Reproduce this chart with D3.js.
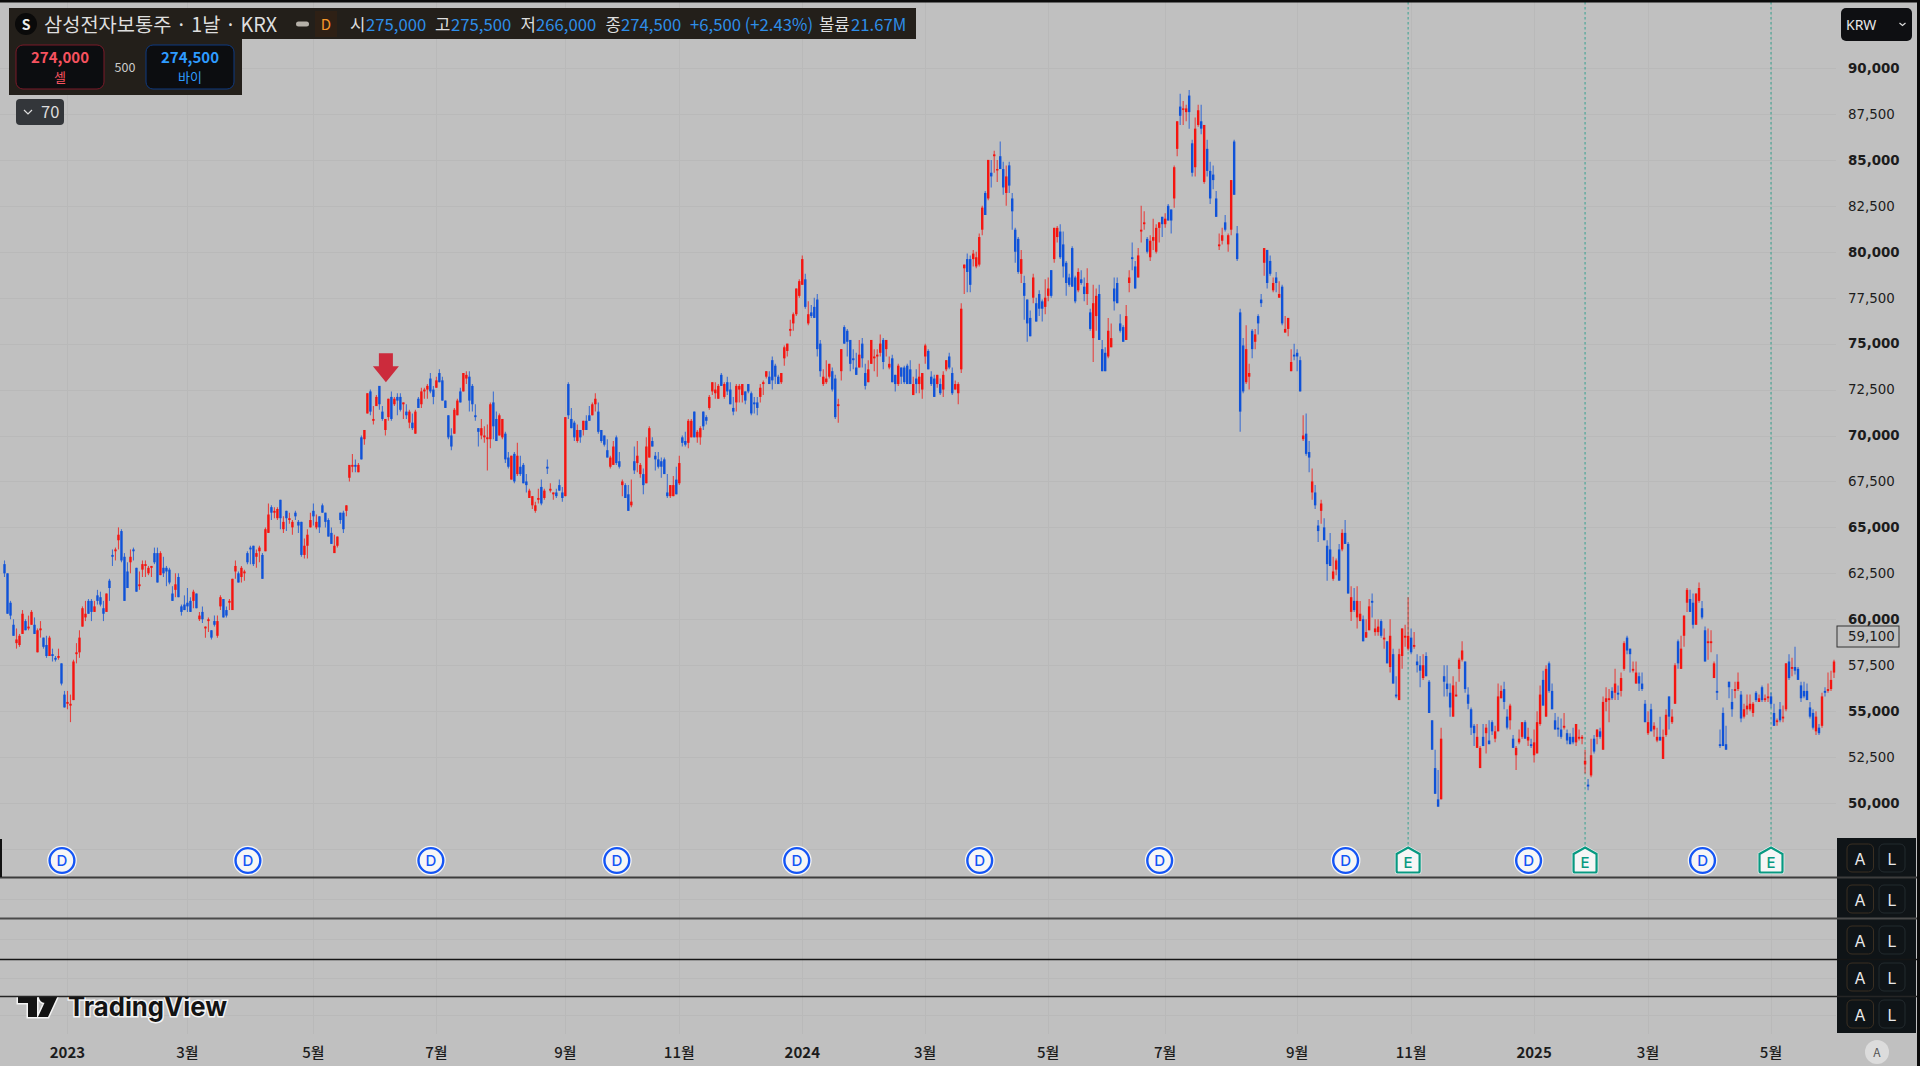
<!DOCTYPE html>
<html>
<head>
<meta charset="utf-8">
<style>
	html,body{margin:0;padding:0;background:#c0c0c0;overflow:hidden;}
	svg{display:block;}
	text{font-family:"Noto Sans CJK KR","Noto Sans",sans-serif;}
</style>
<script src="https://cdnjs.cloudflare.com/ajax/libs/d3/7.8.5/d3.min.js"></script>
</head>
<body>
<svg id="chart" width="1920" height="1066"></svg>
<script>
// daily bars: [open, high, low, close] in units of 100 KRW
var bars2022 = [[630,632,623,625],[625,625,603,603],[609,610,600,602],[597,600,591,591],[587,595,584,589],[586,592,585,591],[592,605,592,603],[599,600,594,594],[595,602,594,596],[597,605,597,604],[597,601,592,592],[582,595,582,594],[594,599,590,595],[590,590,584,585],[586,591,579,580],[580,591,580,590],[581,584,577,580],[579,580,577,578],[579,584,578,580],[576,576,564,565],[559,561,552,552]];
var bars2023a = [[554,561,551,555],[553,559,544,554],[556,578,556,577],[581,587,576,582],[582,594,579,590],[596,607,596,606],[601,610,599,603],[610,611,603,603],[610,611,599,604],[604,610,604,607],[613,616,608,610],[612,615,607,608],[606,610,599,603],[604,614,604,614],[621,622,610,617],[635,638,629,634],[637,639,632,638],[643,650,638,646],[648,649,631,632],[634,636,610,610],[626,631,617,617],[631,638,625,634],[638,639,632,637],[628,628,615,615],[618,626,616,619],[627,632,623,630],[629,632,623,630],[625,629,624,628],[628,629,623,629],[636,639,630,631],[636,639,620,620],[624,637,624,636],[628,634,623,625],[628,629,618,626],[627,628,619,620],[614,618,610,610],[616,625,612,619],[623,625,612,612],[607,608,602,604],[608,613,605,605],[609,617,604,607],[610,612,604,604],[610,616,606,615],[614,614,606,606],[600,604,599,602],[604,607,598,600],[595,596,590,596],[599,601,593,600],[594,594,589,590],[599,602,596,597],[591,602,590,599],[607,613,605,612],[611,611,601,601],[605,607,601,602],[609,611,605,610],[605,622,605,622],[626,632,622,629],[625,626,620,620],[623,629,620,628],[625,627,621,626],[636,637,630,631],[639,640,630,638],[640,640,629,630],[634,638,628,636],[637,640,631,639],[635,636,622,622],[637,650,637,649],[647,663,647,657],[661,662,654,658],[658,661,655,659],[655,661,654,660],[665,665,649,655],[649,656,647,653],[659,659,648,655],[654,658,652,655],[650,654,646,653],[658,659,654,656],[653,654,647,651],[653,653,634,635],[635,644,633,640],[640,649,633,646],[650,658,650,654],[659,663,651,656],[650,657,649,653],[656,656,647,650],[662,663,658,658],[658,658,650,653],[654,655,645,645],[647,650,641,641],[636,646,636,640],[640,645,639,645],[658,658,652,654],[658,659,647,649],[659,662,656,662]];
var bars2023b = [[677,684,675,684],[683,690,680,684],[684,687,680,683],[680,685,680,684],[699,700,687,687],[698,703,695,703],[712,723,712,723],[724,725,711,713],[708,716,706,709],[716,722,716,721],[727,727,714,717],[713,716,708,709],[703,709,700,709],[710,720,708,720],[721,724,708,709],[717,721,716,720],[721,723,711,719],[721,723,713,714],[717,718,709,718],[713,717,709,711],[707,714,704,713],[707,712,703,704],[701,714,701,713],[720,721,715,715],[717,726,715,724],[724,726,720,725],[725,728,720,727],[731,734,723,724],[725,727,717,721],[726,732,726,730],[734,736,729,729],[730,732,719,719],[719,719,715,715],[711,711,698,699],[700,704,692,694],[701,715,701,714],[711,720,711,719],[724,726,718,718],[724,734,724,734],[731,735,728,733],[732,735,713,719],[727,728,713,717],[711,717,708,710],[704,704,694,702],[700,709,698,704],[699,705,696,700],[698,706,681,699],[698,718,693,717],[718,724,698,705],[709,713,697,697],[700,712,700,711],[699,709,698,709],[701,702,685,687],[688,691,682,683],[676,689,676,689],[690,691,674,675],[679,696,678,689],[683,689,678,679],[684,685,674,674],[675,679,669,673],[666,671,666,670],[662,667,660,667],[659,664,658,662],[665,671,663,666],[672,676,662,663],[666,671,665,670],[683,687,679,682],[670,674,669,671],[668,669,665,669],[669,671,666,667],[673,676,670,670],[669,672,664,666]];
var bars2023c = [[667,710,667,710],[728,729,709,711],[709,715,704,704],[707,708,697,699],[697,706,696,703],[703,703,696,699],[703,708,700,708],[708,711,703,703],[711,716,708,708],[711,718,711,717],[717,723,713,720],[713,718,701,702],[703,703,696,697],[700,700,694,695],[692,698,688,688],[683,689,682,688],[684,697,684,694],[699,700,684,685],[686,691,682,683],[673,676,667,675],[673,674,666,666],[668,673,659,659],[662,676,661,664],[686,694,679,681],[685,697,680,689],[679,685,677,684],[679,682,668,673],[674,699,674,694],[688,705,688,704],[697,699,694,694],[689,691,681,687],[687,691,682,683],[686,688,677,683],[687,688,679,679],[669,679,666,667],[667,673,666,673],[667,678,667,673],[676,683,668,668],[674,689,673,685],[699,700,694,696],[697,702,694,695],[696,709,693,708],[699,709,699,708],[713,713,699,699],[699,703,696,702],[699,705,695,704],[713,713,703,705],[710,711,706,708],[715,722,714,721],[724,729,722,729],[723,729,720,725],[720,728,720,727],[733,734,727,727],[721,729,720,728],[729,732,722,724],[725,729,717,717],[715,721,711,713],[718,728,713,727],[725,728,718,727],[722,728,718,728],[724,724,717,719],[728,728,723,724],[723,724,711,712],[718,721,712,717],[718,721,711,715],[721,728,718,726],[728,730,722,729],[732,735,731,735],[732,735,728,728],[741,743,725,730],[738,739,728,732],[732,733,728,728],[729,734,728,734],[742,749,738,748],[746,750,743,750],[757,763,754,758],[761,767,757,766],[766,780,765,780],[776,785,775,784]];
var bars2024a = [[782,798,782,796],[785,788,769,770],[761,773,760,766],[767,771,764,765],[770,775,764,764],[774,777,743,747],[750,752,732,735],[728,736,727,732],[729,741,728,731],[732,739,731,739],[735,737,724,725],[731,733,709,710],[716,720,707,717],[735,747,730,747],[759,760,750,750],[757,758,743,751],[752,752,735,739],[742,747,736,741],[737,745,733,733],[737,752,737,744],[750,753,737,742],[734,739,725,727],[729,741,729,736],[739,752,739,752],[742,747,735,743],[743,747,732,744],[745,755,743,750],[752,753,736,740],[747,752,743,752],[737,743,736,739],[742,744,729,729],[733,733,724,728],[728,739,727,738],[737,737,728,732],[737,738,728,729],[738,739,728,728],[736,741,728,728],[722,732,722,728],[731,736,723,728],[728,739,723,732],[725,734,720,734],[743,750,739,749],[746,747,736,736],[732,735,727,728],[731,733,721,721],[728,733,726,733],[728,731,722,723],[725,735,721,733],[736,741,735,741],[743,745,736,737],[734,737,722,723],[725,730,725,728],[723,729,717,728],[736,772,734,769],[791,793,777,793],[796,799,778,789],[796,798,778,782],[796,801,792,799],[792,800,791,797],[793,810,792,808],[812,825,809,824],[832,833,820,820],[829,850,828,850],[843,850,835,841],[852,855,843,853],[845,850,838,845],[852,860,845,845],[845,849,831,835],[832,847,825,841],[847,849,832,836],[829,832,812,822],[812,813,794,800],[807,808,788,789],[788,801,783,796],[783,787,763,776],[774,774,751,761],[764,768,754,754],[775,788,772,786],[772,775,762,762],[777,779,765,769],[773,774,762,769],[770,785,766,775],[776,786,773,780],[790,790,775,776],[796,813,794,813],[808,814,805,813],[811,815,796,797],[804,811,786,792],[794,795,776,783],[786,788,781,782],[802,803,781,781],[786,787,772,773],[779,791,778,789],[785,790,782,783],[781,786,773,777],[777,791,771,783]];
var bars2024b = [[767,769,757,758],[753,782,740,772],[765,780,757,776],[777,782,752,752],[747,752,735,735],[745,748,735,735],[743,764,742,757],[748,761,748,753],[780,786,768,773],[783,786,772,772],[761,766,756,757],[759,760,751,751],[752,771,752,765],[783,790,778,786],[797,805,790,796],[792,795,780,780],[786,802,786,798],[811,825,805,812],[815,822,812,816],[807,808,799,800],[797,809,795,806],[806,818,801,808],[800,815,799,813],[813,816,805,816],[819,819,808,815],[815,821,813,818],[825,826,817,817],[823,823,810,817],[829,847,824,846],[856,871,852,871],[879,886,869,874],[878,882,869,878],[876,880,871,878],[885,888,867,876],[859,861,841,843],[846,873,841,867],[869,880,868,877],[871,880,864,867],[838,869,837,869],[856,861,841,844],[844,849,826,829],[842,847,834,839],[829,833,819,819],[803,810,801,804],[806,813,804,809],[816,820,811,812],[804,810,800,809],[812,839,809,839],[860,861,831,831],[810,814,795,796]];
var bars2024c = [[767,769,702,713],[749,753,723,724],[729,760,728,747],[732,739,725,734],[757,758,742,747],[751,758,747,755],[765,766,755,761],[774,777,770,772],[794,802,787,802],[801,801,780,783],[795,798,787,788],[779,786,778,783],[786,789,778,783],[775,784,775,777],[781,782,760,761],[756,765,756,758],[758,764,754,764],[735,747,735,740],[744,750,741,743],[745,747,735,743],[741,743,724,724],[698,711,697,700],[701,712,689,690],[691,697,680,688],[669,682,665,675],[669,673,660,662],[651,654,642,648],[659,665,652,663],[650,655,643,643],[640,643,621,630],[638,647,629,629],[622,634,621,626],[627,633,624,632],[638,641,621,621],[638,649,637,647],[647,654,641,641],[641,642,614,614],[604,618,599,612],[610,617,604,605],[601,618,595,610],[599,610,599,603],[600,602,588,588],[590,600,590,593],[594,611,594,607],[610,614,601,609],[593,600,591,595],[593,600,591,596],[599,600,590,591],[589,595,584,590],[588,588,576,576],[574,600,571,591],[581,584,565,565],[559,569,557,558],[556,584,556,581],[580,595,573,595],[590,597,585,591],[584,612,583,591],[590,595,581,582],[585,593,584,586],[577,581,571,575],[575,580,563,572],[568,581,567,575],[580,582,569,569],[566,567,549,549],[545,545,529,529],[519,529,505,505],[502,518,498,498],[502,541,502,535],[569,575,558,566],[565,575,558,562],[560,565,547,552],[547,569,547,564],[558,566,558,559],[573,579,566,578],[578,588,577,583],[577,577,560,562],[559,563,551,554],[551,552,537,541],[542,543,531,538],[530,543,530,536],[519,531,519,530],[536,543,531,531],[538,543,527,541],[534,545,532,532],[544,545,537,539],[535,542,533,539],[539,565,539,558],[557,564,557,561],[562,566,551,555],[547,551,540,541],[545,554,540,553],[535,537,530,530],[526,531,518,530],[533,540,532,535],[536,544,535,544],[544,545,535,535],[534,541,531,536],[532,535,530,531],[526,540,522,533]];
var bars2025 = [[527,550,527,544],[543,564,542,559],[567,572,553,553],[547,575,547,573],[576,577,560,561],[561,565,551,551],[545,549,540,540],[541,547,536,540],[540,546,535,536],[541,549,540,542],[538,540,532,534],[536,538,532,532],[536,541,532,533],[533,543,531,543],[535,540,534,536],[535,537,532,536],[521,529,516,523],[510,513,507,509],[515,535,514,526],[535,537,527,528],[536,540,532,540],[539,541,535,536],[529,558,529,555],[555,563,550,557],[556,562,544,557],[561,563,556,557],[560,573,556,565],[560,564,556,559],[561,571,558,568],[573,588,572,587],[590,591,581,583],[584,584,571,581],[572,577,571,573],[565,577,565,571],[569,571,561,565],[565,571,561,562],[554,556,544,544],[538,550,537,544],[551,554,539,539],[540,544,536,542],[534,541,533,536],[536,547,534,534],[524,540,524,536],[537,551,536,548],[558,558,540,547],[544,551,543,547],[554,576,554,575],[588,589,573,576],[573,591,573,584],[591,602,585,602],[609,617,604,616],[611,616,604,604],[609,614,595,597],[597,614,597,614],[610,620,609,617],[606,610,600,601],[594,596,577,577],[587,595,578,588],[587,594,582,588],[568,577,568,576],[561,581,556,560],[532,540,530,531],[549,552,531,531],[532,542,529,529],[566,566,557,563],[555,562,547,551],[561,566,557,562],[562,571,561,566],[559,561,544,546],[547,554,546,551],[551,559,548,553],[551,559,550,554],[549,555,547,554],[560,561,555,556],[555,559,555,557],[563,564,555,556],[556,559,555,557],[557,565,555,558],[558,560,552,554],[549,554,542,542],[544,546,542,545],[551,555,544,545],[546,553,544,547],[551,576,550,576],[577,581,567,568],[573,579,569,574],[574,585,570,572],[573,574,567,567],[564,566,555,557],[561,566,557,558],[561,565,556,556],[552,555,546,547],[549,551,540,541],[539,550,537,547],[541,543,537,538],[542,560,541,558],[561,563,558,560],[561,571,560,562],[562,572,561,567],[571,578,568,577]];

var monthLabels = ["2023","3월","5월","7월","9월","11월","2024","3월","5월","7월","9월","11월","2025","3월","5월"];
var monthBars = [21,61,103,144,187,225,266,307,348,387,431,469,510,548,589];
var priceTicks = [90000,87500,85000,82500,80000,77500,75000,72500,70000,67500,65000,62500,60000,57500,55000,52500,50000];
var dividendBars = [19,81,142,204,264,325,385,447,508,566];
var earningsBars = [468,527,589];
var arrowBar = 127;
var arrowPrice = 72900;
var lastPrice = 59100;
var legendQuote = [["시","275,000",350,366],["고","275,500",435,451],["저","266,000",520.5,536],["종","274,500",605.5,621]];

var bars = [].concat(bars2022,bars2023a,bars2023b,bars2023c,bars2024a,bars2024b,bars2024c,bars2025).map(function(b,i){
	return {i:i,o:b[0]*100,h:b[1]*100,l:b[2]*100,c:b[3]*100};
});

var svg = d3.select("#chart");
var x = d3.scaleLinear().domain([0,610]).range([4.5,1834]);
var y = d3.scaleLinear().domain([50000,90000]).range([803,68]);
var upColor = "#f41410", downColor = "#0f52d8", textDark = "#1c1c1c", gridColor = "#b9b9b9";
function barColor(d){ return d.c>=d.o ? upColor : downColor; }

svg.append("rect").attr("width",1920).attr("height",1066).attr("fill","#c0c0c0");

// grid
var grid = svg.append("g").attr("stroke",gridColor).attr("stroke-width",1);
grid.selectAll(".v").data(monthBars).enter().append("line")
	.attr("x1",function(d){return Math.round(x(d))+0.5;}).attr("x2",function(d){return Math.round(x(d))+0.5;})
	.attr("y1",2).attr("y2",1034);
grid.selectAll(".h").data(priceTicks.concat([47500])).enter().append("line")
	.attr("x1",0).attr("x2",1836)
	.attr("y1",function(d){return Math.round(y(d))+0.5;}).attr("y2",function(d){return Math.round(y(d))+0.5;});
grid.selectAll(".p").data([899,939,978,1015]).enter().append("line")
	.attr("x1",0).attr("x2",1836).attr("y1",function(d){return d+0.5;}).attr("y2",function(d){return d+0.5;});

// earnings lines
svg.selectAll(".elin").data(earningsBars).enter().append("line")
	.attr("x1",function(d){return x(d);}).attr("x2",function(d){return x(d);})
	.attr("y1",2).attr("y2",846)
	.attr("stroke","#089981").attr("stroke-width",1).attr("stroke-dasharray","2.5,2.5").attr("opacity",0.75);

// candles
var candles = svg.append("g");
candles.selectAll(".wick").data(bars).enter().append("line")
	.attr("x1",function(d){return x(d.i);}).attr("x2",function(d){return x(d.i);})
	.attr("y1",function(d){return y(d.h);}).attr("y2",function(d){return y(d.l);})
	.attr("stroke",barColor).attr("stroke-width",1.1).attr("opacity",0.72);
candles.selectAll(".body").data(bars).enter().append("rect")
	.attr("x",function(d){return x(d.i)-1.2;}).attr("width",2.4)
	.attr("y",function(d){return y(Math.max(d.o,d.c));})
	.attr("height",function(d){return Math.max(1.4,Math.abs(y(d.o)-y(d.c)));})
	.attr("fill",barColor);

// sell arrow
var ax = x(arrowBar)+0.5, ay = y(arrowPrice);
svg.append("path")
	.attr("d","M"+(ax-7)+","+(ay-29)+"h14v13h6L"+ax+","+ay+"L"+(ax-13)+","+(ay-16)+"h6z")
	.attr("fill","#cc2b3c");

// price axis labels
svg.selectAll(".ptick").data(priceTicks).enter().append("text")
	.attr("x",1848).attr("y",function(d){return y(d);}).attr("dy","0.36em")
	.style("font-family","'DejaVu Sans'").style("font-size","13.4px")
	.style("font-weight",function(d){return d%5000==0 ? "bold" : "normal";})
	.attr("fill",textDark)
	.text(function(d){return d3.format(",")(d);});

// last price box
svg.append("rect").attr("x",1837).attr("y",626).attr("width",62).attr("height",21)
	.attr("fill","#c0c0c0").attr("stroke","#333").attr("stroke-width",1);
svg.append("text").attr("x",1848).attr("y",636.5).attr("dy","0.36em")
	.style("font-family","'DejaVu Sans'").style("font-size","13.4px").attr("fill",textDark)
	.text(d3.format(",")(lastPrice));

// time axis labels
svg.selectAll(".mtick").data(monthBars).enter().append("text")
	.attr("x",function(d){return x(d);}).attr("y",1053).attr("dy","0.36em").attr("text-anchor","middle")
	.style("font-size","15px")
	.style("font-weight",function(d,i){return monthLabels[i].length==4 ? "bold" : "500";})
	.attr("fill",textDark)
	.text(function(d,i){return monthLabels[i];});

// dividends
var divs = svg.selectAll(".div").data(dividendBars).enter().append("g")
	.attr("transform",function(d){return "translate("+(x(d)+0.5)+",860.5)";});
divs.append("circle").attr("r",14.8).attr("fill","#f6f6f6");
divs.append("circle").attr("r",12.4).attr("fill","#f6f6f6").attr("stroke","#1455f5").attr("stroke-width",2.4);
divs.append("text").attr("text-anchor","middle").attr("dy","0.36em")
	.style("font-family","Inter").style("font-size","15px").style("font-weight","500")
	.attr("fill","#1455f5").text("D");

// earnings
var earns = svg.selectAll(".earn").data(earningsBars).enter().append("g")
	.attr("transform",function(d){return "translate("+x(d)+",846.5)";});
earns.append("path").attr("d","M0,1L11.5,7.5V24.5Q11.5,26 10,26H-10Q-11.5,26 -11.5,24.5V7.5Z")
	.attr("fill","#f6f6f6").attr("stroke","#f6f6f6").attr("stroke-width",3.5).attr("stroke-linejoin","round");
earns.append("path").attr("d","M0,1L11.5,7.5V24.5Q11.5,26 10,26H-10Q-11.5,26 -11.5,24.5V7.5Z")
	.attr("fill","#f6f6f6").attr("stroke","#089981").attr("stroke-width",2.2);
earns.append("text").attr("text-anchor","middle").attr("y",16).attr("dy","0.36em")
	.style("font-family","Inter").style("font-size","15px").style("font-weight","500")
	.attr("fill","#089981").text("E");

// tradingview logo, cut off at the pane line
svg.append("clipPath").attr("id","logoClip").append("rect").attr("x",0).attr("y",997).attr("width",400).attr("height",40);
var logo = svg.append("g").attr("clip-path","url(#logoClip)");
var logoPath = "M18,991H37V1017H28V1003H18ZM50,991H60L48,1017H38ZM45,991A4.5,4.5 0 1 1 45,1003A4.5,4.5 0 1 1 45,991Z";
logo.append("path").attr("d",logoPath).attr("fill","#f4f4f4").attr("stroke","#f4f4f4").attr("stroke-width",3);
logo.append("path").attr("d",logoPath).attr("fill","#131313");
logo.append("text").attr("x",68).attr("y",1016)
	.style("font-family","Inter").style("font-size","27px").style("font-weight","700")
	.attr("textLength",159).attr("lengthAdjust","spacingAndGlyphs")
	.attr("fill","#131313").attr("stroke","#f4f4f4").attr("stroke-width",3).attr("paint-order","stroke").text("TradingView");

// right hand A / L panel
svg.append("rect").attr("x",1837).attr("y",838).attr("width",79).attr("height",195).attr("fill","#0f1417");
var rows = svg.selectAll(".alrow").data([858,899,940,977,1014]).enter().append("g")
	.attr("transform",function(d){return "translate(0,"+d+")";});
rows.append("rect").attr("x",1847).attr("y",-14).attr("width",26.5).attr("height",28).attr("rx",5)
	.attr("fill","none").attr("stroke","#3a2f22");
rows.append("rect").attr("x",1879).attr("y",-14).attr("width",26).attr("height",28).attr("rx",5)
	.attr("fill","none").attr("stroke","#232a2e");
rows.append("text").attr("x",1860).attr("y",1.5).attr("dy","0.36em").attr("text-anchor","middle")
	.style("font-family","Inter").style("font-size","16px").attr("fill","#e8e8e8").text("A");
rows.append("text").attr("x",1892).attr("y",1.5).attr("dy","0.36em").attr("text-anchor","middle")
	.style("font-family","Inter").style("font-size","16px").attr("fill","#e8e8e8").text("L");

// pane separators
var panes = [[877.5,2,"#3c3c3c"],[918.5,2,"#4a4a4a"],[959.5,1.4,"#151515"],[996.5,1.4,"#252525"]];
svg.selectAll(".pane").data(panes).enter().append("line")
	.attr("x1",0).attr("x2",1917).attr("y1",function(d){return d[0];}).attr("y2",function(d){return d[0];})
	.attr("stroke-width",function(d){return d[1];}).attr("stroke",function(d){return d[2];});
svg.append("rect").attr("x",0).attr("y",839).attr("width",2).attr("height",38).attr("fill","#111");

// auto scale button
svg.append("circle").attr("cx",1877).attr("cy",1052).attr("r",12).attr("fill","#dcdcdc");
svg.append("text").attr("x",1877).attr("y",1052.5).attr("dy","0.36em").attr("text-anchor","middle")
	.style("font-size","12px").attr("fill","#555").text("A");

// window border
svg.append("rect").attr("width",1920).attr("height",2.5).attr("fill","#0b0b0b");
svg.append("rect").attr("x",1917).attr("width",3).attr("height",1066).attr("fill","#0b0b0b");

// currency button
svg.append("rect").attr("x",1841).attr("y",8).attr("width",71).attr("height",33).attr("rx",5).attr("fill","#0e0f12");
svg.append("text").attr("x",1846).attr("y",24.5).attr("dy","0.36em")
	.style("font-family","'Noto Sans'").style("font-size","14px").attr("fill","#e8e8e8").text("KRW");
svg.append("path").attr("d","M1899.5,23l3,2.5l3,-2.5").attr("fill","none").attr("stroke","#ddd").attr("stroke-width",1.2);

// symbol legend
var blue = "#2e8ee8";
svg.append("path").attr("d","M9,8H916V39H242V95H9Z").attr("fill","#231f1a");
svg.append("circle").attr("cx",26).attr("cy",24).attr("r",11).attr("fill","#0a0a0a");
svg.append("text").attr("x",26).attr("y",24.5).attr("dy","0.36em").attr("text-anchor","middle")
	.style("font-size","14px").style("font-weight","bold").attr("fill","#eee").text("S");
svg.append("text").attr("x",44).attr("y",25).attr("dy","0.36em")
	.style("font-size","19.8px").attr("fill","#dedede").text("삼성전자보통주 · 1날 · KRX");
svg.append("rect").attr("x",296).attr("y",21.5).attr("width",13).attr("height",5).attr("rx",2.5).attr("fill","#b5b0a8");
svg.append("rect").attr("x",315).attr("y",11).attr("width",22).attr("height",26).attr("fill","#2e2015");
svg.append("text").attr("x",326).attr("y",25).attr("dy","0.36em").attr("text-anchor","middle")
	.style("font-size","15px").attr("fill","#f5962a").text("D");
var quote = svg.selectAll(".quote").data(legendQuote).enter().append("g");
quote.append("text").attr("x",function(d){return d[2];}).attr("y",25).attr("dy","0.36em")
	.style("font-size","16.7px").attr("fill","#dedede").text(function(d){return d[0];});
quote.append("text").attr("x",function(d){return d[3];}).attr("y",25).attr("dy","0.36em")
	.style("font-size","16.7px").attr("fill",blue).text(function(d){return d[1];});
svg.append("text").attr("x",690).attr("y",25).attr("dy","0.36em")
	.style("font-size","16.7px").attr("fill",blue).text("+6,500 (+2.43%)");
svg.append("text").attr("x",819).attr("y",25).attr("dy","0.36em")
	.style("font-size","16.7px").attr("fill","#dedede").text("볼륨");
svg.append("text").attr("x",851).attr("y",25).attr("dy","0.36em")
	.style("font-size","16.7px").attr("fill",blue).text("21.67M");

// sell / buy buttons
function tradeButton(bx,stroke,color,price,label){
	svg.append("rect").attr("x",bx).attr("y",45).attr("width",88).attr("height",44).attr("rx",7)
		.attr("fill","#0c0d10").attr("stroke",stroke);
	svg.append("text").attr("x",bx+44).attr("y",58).attr("dy","0.36em").attr("text-anchor","middle")
		.style("font-size","15px").style("font-weight","bold").attr("fill",color).text(price);
	svg.append("text").attr("x",bx+44).attr("y",77.5).attr("dy","0.36em").attr("text-anchor","middle")
		.style("font-size","13px").attr("fill",color).text(label);
}
tradeButton(16,"#7a1a28","#f7525f","274,000","셀");
tradeButton(146,"#0f3a80","#2e9bff","274,500","바이");
svg.append("text").attr("x",125).attr("y",67.5).attr("dy","0.36em").attr("text-anchor","middle")
	.style("font-size","12.5px").attr("fill","#ccc").text("500");

// indicators collapse button
svg.append("rect").attr("x",16).attr("y",99).attr("width",48).attr("height",26).attr("rx",4).attr("fill","#33363a");
svg.append("path").attr("d","M24,110l4,4l4,-4").attr("fill","none").attr("stroke","#ddd").attr("stroke-width",1.2);
svg.append("text").attr("x",41).attr("y",112.5).attr("dy","0.36em")
	.style("font-size","16.5px").attr("fill","#ddd").text("70");
</script>
</body>
</html>
